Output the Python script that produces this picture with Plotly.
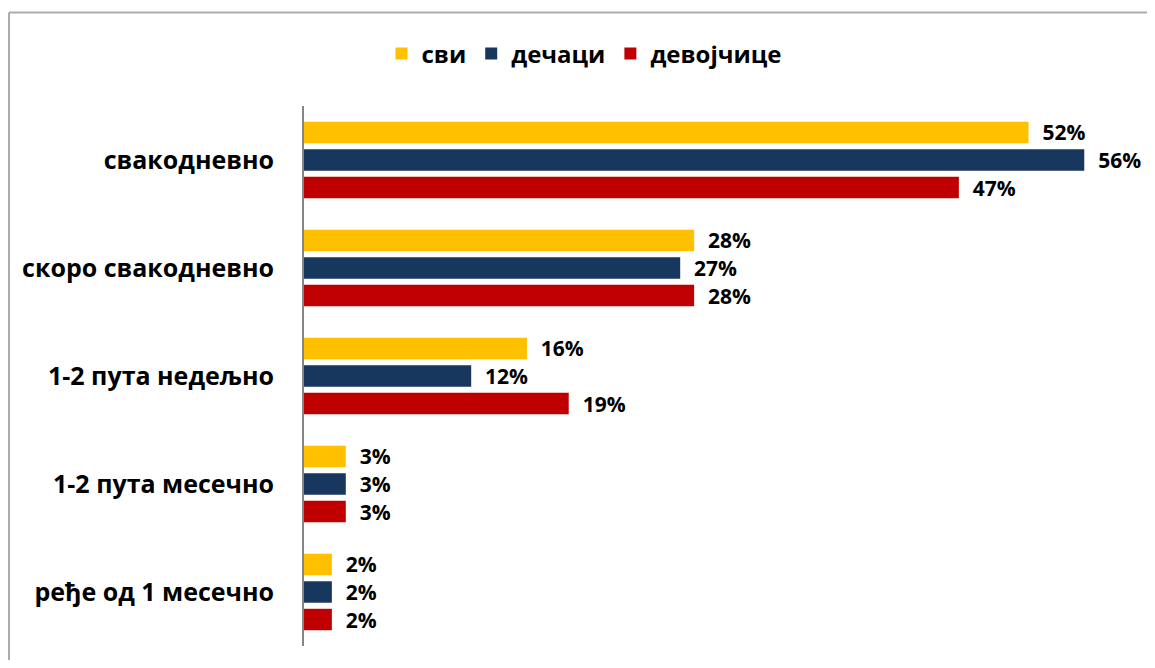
import plotly.graph_objects as go

categories = ["свакодневно", "скоро свакодневно", "1-2 пута недељно",
              "1-2 пута месечно", "ређе од 1 месечно"]
series_names = ["сви", "дечаци", "девојчице"]
svi = [52, 28, 16, 3, 2]
decaci = [56, 27, 12, 3, 2]
devojcice = [47, 28, 19, 3, 2]
colors = ["#FFC000", "#17375E", "#C00000"]

FONT = "Open Sans"

fig = go.Figure()
for name, vals, col in zip(series_names, [svi, decaci, devojcice], colors):
    fig.add_trace(go.Bar(
        name=name,
        y=categories,
        x=vals,
        orientation="h",
        marker=dict(color=col, line=dict(width=0)),
        texttemplate="  %{x}%",
        textposition="outside",
        constraintext="none",
        cliponaxis=False,
        textfont=dict(family=FONT, size=21, color="black", weight="bold"),
    ))

# page body has an 8px margin, so work in figure pixels = screen - 8
OFF = 8
W, H = 1155 - 2 * OFF, 668 - 2 * OFF
L, R, T, B = 304 - OFF, 1140 - OFF, 106 - OFF, 646 - OFF

def px(p):
    return (p - OFF - L) / (R - L)

def py(p):
    return (B - (p - OFF)) / (B - T)

border = dict(color="#ABABAB", width=2)

fig.update_layout(
    width=W, height=H,
    margin=dict(l=L, r=W - R, t=T, b=H - B, autoexpand=False),
    barmode="group",
    bargap=0.236,
    bargroupgap=0.22,
    plot_bgcolor="white",
    paper_bgcolor="white",
    font=dict(family=FONT, color="black"),
    showlegend=True,
    legend=dict(
        orientation="h",
        x=px(584), xanchor="center",
        y=py(54), yanchor="middle",
        font=dict(family=FONT, size=24, color="black", weight="bold"),
        traceorder="normal",
    ),
    xaxis=dict(
        range=[0, 60],
        visible=False,
        showgrid=False,
        zeroline=False,
    ),
    yaxis=dict(
        autorange="reversed",
        showline=True,
        linecolor="#868686",
        linewidth=2,
        showgrid=False,
        ticks="",
        ticklabelstandoff=23,
        tickfont=dict(family=FONT, size=25, color="black", weight="bold"),
    ),
    shapes=[
        dict(type="line", xref="paper", yref="paper",
             x0=px(9), x1=px(1147), y0=py(12.5), y1=py(12.5),
             line=border, layer="below"),
        dict(type="line", xref="paper", yref="paper",
             x0=px(9), x1=px(9), y0=py(12.5), y1=py(660),
             line=border, layer="below"),
    ],
)

fig.write_html("out.html")
